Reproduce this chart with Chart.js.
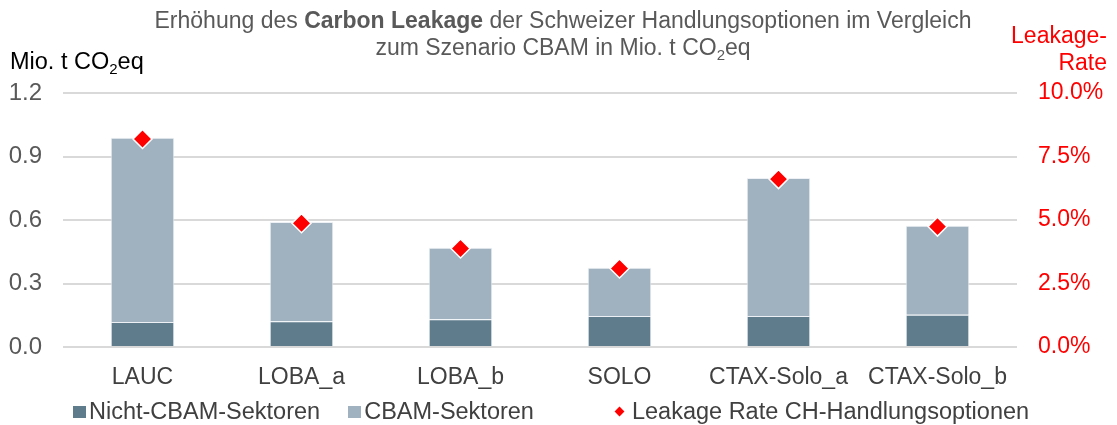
<!DOCTYPE html>
<html>
<head>
<meta charset="utf-8">
<script src="https://cdn.jsdelivr.net/npm/chart.js@4.4.1/dist/chart.umd.min.js"></script>
<style>
    html, body { margin: 0; padding: 0; background: #fff; }
    body { width: 1117px; height: 425px; position: relative; overflow: hidden; font-family: 'Liberation Sans', Arial, sans-serif; }
    #wrap { position: absolute; left: 0; top: 0; width: 1117px; height: 425px; }
    .txt { position: absolute; white-space: nowrap; font-size: 23px; line-height: 1; }
    #title { left: 0; width: 1126px; top: 7px; text-align: center; color: #595959; line-height: 27px; }
    #yTitle { left: 10px; top: 50px; color: #000; font-size: 23.5px; }
    #y2Title { right: 10px; top: 22px; color: #ff0000; text-align: right; line-height: 27px; }
    sub { font-size: 15px; vertical-align: -5px; line-height: 0; }
    #legend { position: absolute; top: 400px; left: 73px; display: flex; align-items: center; color: #404040; font-size: 23.5px; line-height: 1; }
    #legend .item { display: flex; align-items: center; }
    #legend .sw { width: 13px; height: 12px; margin-right: 3px; }
    #legend .dia { width: 7px; height: 7px; background: #ff0000; transform: rotate(45deg); margin: 0 9px 0 3px; }
</style>
</head>
<body>
<div id="wrap"><canvas id="chart"></canvas></div>
<div id="title" class="txt">Erhöhung des <b>Carbon Leakage</b> der Schweizer Handlungsoptionen im Vergleich<br>zum Szenario CBAM in Mio. t CO<sub>2</sub>eq</div>
<div id="yTitle" class="txt">Mio. t CO<sub>2</sub>eq</div>
<div id="y2Title" class="txt">Leakage-<br>Rate</div>
<div id="legend">
    <div class="item" style="margin-right:28px"><div class="sw" style="background:#5f7c8c"></div>Nicht-CBAM-Sektoren</div>
    <div class="item" style="margin-right:79px"><div class="sw" style="background:#a0b2bf"></div>CBAM-Sektoren</div>
    <div class="item"><div class="dia"></div>Leakage Rate CH-Handlungsoptionen</div>
</div>
<script>
const categories = ['LAUC', 'LOBA_a', 'LOBA_b', 'SOLO', 'CTAX-Solo_a', 'CTAX-Solo_b'];
const nichtCbam = [0.118, 0.122, 0.131, 0.146, 0.147, 0.152];
const cbam = [0.871, 0.468, 0.338, 0.228, 0.651, 0.421];
const leakageRate = [8.19, 4.87, 3.88, 3.09, 6.61, 4.74];
const leftTicks = [0, 0.3, 0.6, 0.9, 1.2];
const rightTicks = [0, 2.5, 5, 7.5, 10];

const ctx = document.getElementById('chart').getContext('2d');
new Chart(ctx, {
    data: {
        labels: categories,
        datasets: [
            {
                type: 'line',
                label: 'Leakage Rate CH-Handlungsoptionen',
                data: leakageRate,
                yAxisID: 'y2',
                showLine: false,
                pointStyle: 'rectRot',
                pointRadius: 9.5,
                pointBackgroundColor: '#ff0000',
                pointBorderColor: '#ffffff',
                pointBorderWidth: 1.5,
                order: 0
            },
            {
                type: 'bar',
                label: 'Nicht-CBAM-Sektoren',
                data: nichtCbam,
                backgroundColor: '#5f7c8c',
                borderColor: 'rgba(235,240,244,0.9)',
                borderWidth: 1,
                yAxisID: 'y',
                order: 1
            },
            {
                type: 'bar',
                label: 'CBAM-Sektoren',
                data: cbam,
                backgroundColor: '#a0b2bf',
                borderColor: 'rgba(235,240,244,0.9)',
                borderWidth: 1,
                yAxisID: 'y',
                order: 1
            }
        ]
    },
    options: {
        responsive: true,
        maintainAspectRatio: false,
        animation: false,
        layout: { padding: { top: 93, bottom: 30, left: 0, right: 0 } },
        plugins: {
            legend: { display: false },
            tooltip: { enabled: false }
        },
        datasets: {
            bar: { categoryPercentage: 1, barPercentage: 0.4 }
        },
        scales: {
            x: {
                stacked: true,
                afterFit: s => { s.height = 48; },
                grid: { display: false },
                border: { display: false },
                ticks: {
                    padding: 9,
                    color: '#404040',
                    font: { family: 'Liberation Sans', size: 23 }
                }
            },
            y: {
                stacked: true,
                position: 'left',
                min: 0,
                max: 1.2,
                afterFit: s => { s.width = 63; },
                afterBuildTicks: s => { s.ticks = leftTicks.map(v => ({ value: v })); },
                grid: { color: '#d9d9d9', lineWidth: 2, drawTicks: false },
                border: { display: false },
                ticks: {
                    padding: 21,
                    color: '#595959',
                    font: { family: 'Liberation Sans', size: 24 },
                    callback: v => v.toFixed(1)
                }
            },
            y2: {
                position: 'right',
                min: 0,
                max: 10,
                afterFit: s => { s.width = 100; },
                afterBuildTicks: s => { s.ticks = rightTicks.map(v => ({ value: v })); },
                grid: { display: false, drawTicks: false },
                border: { display: false },
                ticks: {
                    padding: 21,
                    color: '#ff0000',
                    font: { family: 'Liberation Sans', size: 23 },
                    callback: v => v.toFixed(1) + '%'
                }
            }
        }
    }
});
</script>
</body>
</html>
